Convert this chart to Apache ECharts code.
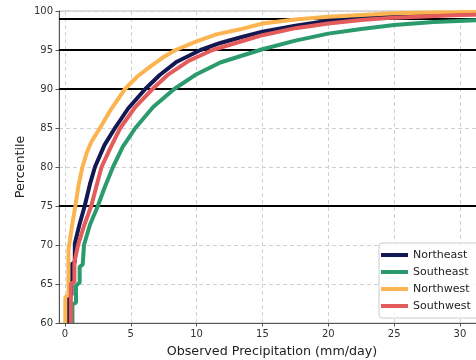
<!DOCTYPE html>
<html>
<head>
<meta charset="utf-8">
<script src="https://cdn.jsdelivr.net/npm/echarts@6/dist/echarts.min.js"></script>
<style>
  html, body { margin: 0; padding: 0; background: #fff; }
  #chart { width: 476px; height: 360px; }
</style>
</head>
<body>
<div id="chart"></div>
<script>
// percentile curves: x = precipitation (mm/day), p = percentile
const seriesNames = ["Northeast", "Southeast", "Northwest", "Southwest"];
const seriesColors = ["#141852", "#2b9a6c", "#fbb44f", "#e35b5b"];

const northeastX = [0.25, 0.25, 0.5, 0.5, 0.75, 0.75, 1.1, 1.5, 1.9, 2.28, 3.0, 3.8, 4.8, 6.1, 7.2, 8.5, 10.3, 11.8, 13.3, 15, 17.5, 20, 22.5, 25, 30, 32];
const northeastP = [60, 63.4, 63.6, 67.5, 67.8, 70.2, 72.6, 75, 77.8, 80, 82.8, 85, 87.5, 90, 91.8, 93.5, 95, 95.9, 96.6, 97.35, 98.1, 98.76, 99.1, 99.36, 99.6, 99.65];

const southeastX = [0.57, 0.57, 0.84, 0.84, 1.12, 1.12, 1.35, 1.45, 1.9, 2.5, 3.0, 3.65, 4.4, 5.35, 6.7, 8.3, 10, 11.8, 13.3, 15, 17.5, 20, 22.5, 25, 28, 32];
const southeastP = [60, 62.4, 62.6, 64.8, 65.2, 67.2, 67.5, 70, 72.6, 75, 77.3, 80, 82.6, 85, 87.7, 90, 91.9, 93.4, 94.2, 95.1, 96.2, 97.1, 97.7, 98.2, 98.6, 98.85];

const northwestX = [0.03, 0.03, 0.27, 0.27, 0.55, 0.8, 1.05, 1.33, 1.65, 2.0, 2.66, 3.5, 4.56, 5.5, 6.5, 7.4, 8.4, 10, 11.5, 13.3, 15, 17.5, 20, 22.5, 25, 28, 32];
const northwestP = [60, 63.3, 63.6, 69.4, 72.6, 75.1, 77.8, 80, 81.8, 83.2, 85, 87.4, 90, 91.6, 92.9, 94, 95, 96.1, 97, 97.65, 98.4, 98.9, 99.26, 99.5, 99.7, 99.8, 99.9];

const southwestX = [0.45, 0.45, 0.72, 0.72, 1.0, 1.5, 2.0, 2.4, 2.78, 3.5, 4.2, 5.3, 6.65, 7.8, 9.4, 11.2, 13.3, 15, 17.5, 20, 22.5, 25, 30, 32];
const southwestP = [60, 65, 65.3, 67.8, 70, 72.7, 75, 77.6, 80, 82.6, 85, 87.6, 90, 91.8, 93.6, 95, 96.06, 96.9, 97.8, 98.4, 98.85, 99.15, 99.5, 99.55];

const xTicks = [0, 5, 10, 15, 20, 25, 30];
const refLines = [99, 95, 90, 75];

const curves = [
  [northeastX, northeastP],
  [southeastX, southeastP],
  [northwestX, northwestP],
  [southwestX, southwestP],
];

const font = "DejaVu Sans";
const chart = echarts.init(document.getElementById("chart"));

const series = curves.map(function (c, i) {
  return {
    name: seriesNames[i],
    type: "line",
    data: c[0].map(function (x, k) { return [x, c[1][k]]; }),
    symbol: "none",
    lineStyle: { color: seriesColors[i], width: 4 },
    itemStyle: { color: seriesColors[i] },
    z: 3,
  };
});

// black reference percentiles
series.push({
  type: "line",
  data: [],
  silent: true,
  markLine: {
    silent: true,
    symbol: "none",
    label: { show: false },
    lineStyle: { color: "#000", width: 2, type: "solid" },
    data: refLines.map(function (v) { return { yAxis: v }; }),
    z: 2,
  },
});

chart.setOption({
  animation: false,
  backgroundColor: "#fff",
  grid: {
    left: 59, top: 11, right: -9, bottom: 37,
    outerBoundsMode: "none",
    show: true, borderColor: "#bbb", borderWidth: 1,
  },
  legend: {
    data: seriesNames,
    orient: "vertical",
    left: 379, top: 243,
    icon: "rect",
    itemWidth: 27, itemHeight: 4, itemGap: 3,
    padding: [5, 14, 5, 2],
    backgroundColor: "rgba(255,255,255,0.85)",
    borderColor: "#ccc", borderWidth: 1, borderRadius: 3,
    textStyle: { fontFamily: font, fontSize: 11, color: "#222", lineHeight: 14 },
  },
  xAxis: {
    type: "value",
    min: -0.45, max: 31.9,
    name: "Observed Precipitation (mm/day)",
    nameLocation: "middle", nameGap: 22,
    nameTextStyle: { fontFamily: font, fontSize: 12.7, color: "#222" },
    axisLine: { show: true, onZero: false, lineStyle: { color: "#555", width: 1 } },
    axisTick: { show: true, length: 3.5, customValues: xTicks, lineStyle: { color: "#555" } },
    axisLabel: { customValues: xTicks, margin: 6, fontFamily: font, fontSize: 10, color: "#333" },
    splitLine: { show: true, lineStyle: { color: "#d0d0d0", type: [4, 3], width: 1 } },
  },
  yAxis: {
    type: "value",
    min: 60, max: 100, interval: 5,
    name: "Percentile",
    nameLocation: "middle", nameGap: 32,
    nameMoveOverlap: false,
    nameTextStyle: { fontFamily: font, fontSize: 12.7, color: "#222" },
    axisLine: { show: true, onZero: false, lineStyle: { color: "#555", width: 1 } },
    axisTick: { show: true, length: 3.5, lineStyle: { color: "#555" } },
    axisLabel: { margin: 6, fontFamily: font, fontSize: 10, color: "#333" },
    splitLine: { show: true, lineStyle: { color: "#d0d0d0", type: [4, 3], width: 1 } },
  },
  series: series,
});
</script>
</body>
</html>
